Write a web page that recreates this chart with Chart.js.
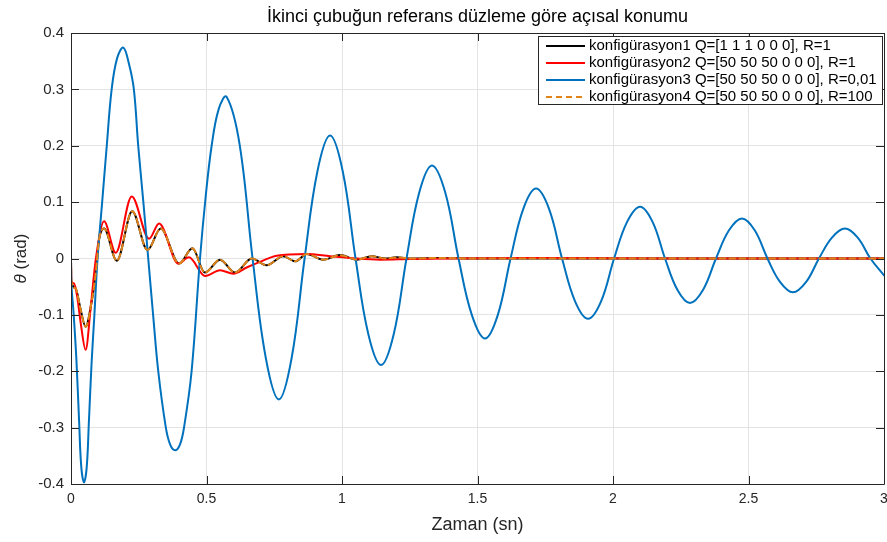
<!DOCTYPE html>
<html>
<head>
<meta charset="utf-8">
<script src="https://cdn.jsdelivr.net/npm/chart.js@4.4.0/dist/chart.umd.min.js"></script>
<style>
  html, body { margin: 0; padding: 0; background: #fff; }
  #c { display: block; }
</style>
</head>
<body>
<canvas id="c" width="887" height="542"></canvas>
<script>
/* Açısal konum grafiği — Chart.js ile yeniden çizim */

// ── Data ─────────────────────────────────────────────────────────────────────
const seriesLabels = [
  'konfigürasyon1 Q=[1 1 1 0 0 0], R=1',
  'konfigürasyon2 Q=[50 50 50 0 0 0], R=1',
  'konfigürasyon3 Q=[50 50 50 0 0 0], R=0,01',
  'konfigürasyon4 Q=[50 50 50 0 0 0], R=100'
];

const timeConf1  = [0, 0.001, 0.017, 0.033, 0.054, 0.075, 0.091, 0.103, 0.122, 0.169, 0.226, 0.282, 0.331, 0.399, 0.448, 0.494, 0.55, 0.605, 0.667, 0.722, 0.783, 0.827, 0.87, 0.931, 0.993, 1.054, 1.11, 1.16, 1.2, 1.26, 1.35, 1.5, 1.8, 2.2, 2.6, 3.0];
const thetaConf1 = [0, -0.04, -0.053, -0.085, -0.121, -0.08, -0.027, 0.032, 0.053, -0.004, 0.084, 0.015, 0.053, -0.009, 0.018, -0.025, -0.002, -0.025, 0, -0.012, 0.004, -0.005, 0.008, -0.002, 0.006, -0.002, 0.004, 0, 0.002, 0, 0.001, 0, 0, 0, 0, 0];

const timeConf2  = [0, 0.001, 0.011, 0.023, 0.036, 0.054, 0.073, 0.091, 0.122, 0.165, 0.224, 0.288, 0.325, 0.396, 0.435, 0.495, 0.55, 0.599, 0.648, 0.697, 0.759, 0.87, 0.956, 1.05, 1.14, 1.25, 1.4, 1.7, 2.2, 3.0];
const thetaConf2 = [0, -0.04, -0.044, -0.068, -0.115, -0.162, -0.085, -0.003, 0.066, 0.01, 0.11, 0.035, 0.062, -0.009, 0.002, -0.031, -0.021, -0.027, -0.016, -0.006, 0.005, 0.008, 0.004, 0, -0.002, -0.001, 0, 0.001, 0, 0];

const timeConf3  = [0, 0.001, 0.010, 0.020, 0.030, 0.038, 0.048, 0.058, 0.066, 0.076, 0.086, 0.098,
  0.115, 0.132, 0.150, 0.170, 0.193, 0.214, 0.232, 0.248, 0.267, 0.285, 0.303, 0.322, 0.350, 0.366, 0.384,
  0.402, 0.417, 0.445, 0.476, 0.497, 0.519, 0.545, 0.574,
  0.622, 0.670, 0.719, 0.767, 0.814, 0.862, 0.909, 0.956, 1.003, 1.050, 1.097, 1.144,
  1.191, 1.238, 1.285, 1.332, 1.381, 1.430, 1.479, 1.528, 1.575, 1.622, 1.669, 1.716,
  1.764, 1.812, 1.860, 1.908, 1.956, 2.004, 2.052, 2.100, 2.146, 2.192, 2.238, 2.284,
  2.332, 2.380, 2.428, 2.476, 2.523, 2.570, 2.617, 2.664, 2.712, 2.760, 2.808, 2.856,
  2.903, 2.950, 3.000];
const thetaConf3 = [0, -0.042, -0.10, -0.18, -0.29, -0.37, -0.397, -0.37, -0.29, -0.185, -0.103, 0,
  0.10, 0.20, 0.30, 0.355, 0.374, 0.345, 0.30, 0.20, 0.10, 0, -0.10, -0.20, -0.30, -0.33, -0.34,
  -0.33, -0.30, -0.20, 0, 0.11, 0.20, 0.265, 0.287,
  0.203, 0, -0.177, -0.25, -0.177, 0, 0.154, 0.218, 0.154, 0, -0.134, -0.189,
  -0.134, 0, 0.117, 0.165, 0.117, 0, -0.10, -0.142, -0.10, 0, 0.088, 0.124,
  0.088, 0, -0.076, -0.107, -0.076, 0, 0.065, 0.092, 0.065, 0, -0.056, -0.079,
  -0.056, 0, 0.05, 0.071, 0.05, 0, -0.042, -0.06, -0.042, 0, 0.037, 0.053,
  0.037, 0, -0.03];

const timeConf4  = [0, 0.001, 0.017, 0.033, 0.054, 0.075, 0.091, 0.103, 0.122, 0.169, 0.226, 0.282, 0.331, 0.399, 0.448, 0.494, 0.55, 0.605, 0.667, 0.722, 0.783, 0.827, 0.87, 0.931, 0.993, 1.054, 1.11, 1.16, 1.2, 1.26, 1.35, 1.5, 1.8, 2.2, 2.6, 3.0];
const thetaConf4 = [0, -0.04, -0.053, -0.085, -0.121, -0.08, -0.027, 0.032, 0.053, -0.004, 0.084, 0.015, 0.053, -0.009, 0.018, -0.025, -0.002, -0.025, 0, -0.012, 0.004, -0.005, 0.008, -0.002, 0.006, -0.002, 0.004, 0, 0.002, 0, 0.001, 0, 0, 0, 0, 0];

const xTicks      = [0, 0.5, 1, 1.5, 2, 2.5, 3];
const xTickLabels = ['0', '0.5', '1', '1.5', '2', '2.5', '3'];
const yTicks      = [-0.4, -0.3, -0.2, -0.1, 0, 0.1, 0.2, 0.3, 0.4];
const yTickLabels = ['-0.4', '-0.3', '-0.2', '-0.1', '0', '0.1', '0.2', '0.3', '0.4'];

const titleText = 'İkinci çubuğun referans düzleme göre açısal konumu';
const xTitle    = 'Zaman (sn)';

// ── Look ─────────────────────────────────────────────────────────────────────
const FONT     = '"Liberation Sans", Arial, sans-serif';
const AXIS_CLR = '#262626';
const GRID_CLR = '#e3e3e3';
const PLOT     = { left: 71, right: 884, top: 33, bottom: 484 };

function toPoints(ts, vs) {
  return ts.map((t, i) => ({ x: t, y: vs[i] }));
}

// ── Plugins ──────────────────────────────────────────────────────────────────
const whiteBg = {
  id: 'whiteBg',
  beforeDraw(chart) {
    const c = chart.ctx;
    c.save();
    c.fillStyle = '#fff';
    c.fillRect(0, 0, chart.width, chart.height);
    c.restore();
  }
};

const matlabFrame = {
  id: 'matlabFrame',
  afterDraw(chart) {
    const c = chart.ctx;
    const a = chart.chartArea;
    const xs = chart.scales.x, ys = chart.scales.y;
    const tl = 8;
    c.save();
    c.strokeStyle = AXIS_CLR;
    c.lineWidth = 1;
    c.beginPath();
    c.rect(Math.round(a.left) + 0.5, Math.round(a.top) + 0.5, Math.round(a.right - a.left), Math.round(a.bottom - a.top));
    xTicks.forEach(v => {
      const px = Math.round(xs.getPixelForValue(v)) + 0.5;
      c.moveTo(px, a.bottom); c.lineTo(px, a.bottom - tl);
      c.moveTo(px, a.top);    c.lineTo(px, a.top + tl);
    });
    yTicks.forEach(v => {
      const py = Math.round(ys.getPixelForValue(v)) + 0.5;
      c.moveTo(a.left, py);  c.lineTo(a.left + tl, py);
      c.moveTo(a.right, py); c.lineTo(a.right - tl, py);
    });
    c.stroke();

    // title + axis titles
    c.fillStyle = '#000';
    c.textAlign = 'center';
    c.textBaseline = 'middle';
    c.font = '18px ' + FONT;
    c.fillText(titleText, (a.left + a.right) / 2, 17);
    c.fillStyle = AXIS_CLR;
    c.font = '18px ' + FONT;
    c.fillText(xTitle, (a.left + a.right) / 2, 525);

    // y title: italic theta + " (rad)"
    c.translate(21, (a.top + a.bottom) / 2);
    c.rotate(-Math.PI / 2);
    const f1 = 'italic 17px ' + FONT, f2 = '17px ' + FONT;
    c.font = f1; const w1 = c.measureText('θ').width;
    c.font = f2; const w2 = c.measureText(' (rad)').width;
    c.textAlign = 'left';
    c.font = f1; c.fillText('θ', -(w1 + w2) / 2, 0);
    c.font = f2; c.fillText(' (rad)', -(w1 + w2) / 2 + w1, 0);
    c.restore();

    // legend box
    const box = { x: 538, y: 36, w: 344, h: 68 };
    c.save();
    c.fillStyle = '#fff';
    c.fillRect(box.x, box.y, box.w, box.h);
    c.strokeStyle = AXIS_CLR;
    c.lineWidth = 1;
    c.strokeRect(box.x + 0.5, box.y + 0.5, box.w, box.h);
    c.font = '15px ' + FONT;
    c.textBaseline = 'middle';
    c.textAlign = 'left';
    chart.data.datasets.forEach((ds, i) => {
      const yy = box.y + 10 + i * 17;
      c.strokeStyle = ds.borderColor;
      c.lineWidth = ds.borderWidth;
      c.setLineDash(ds.borderDash || []);
      c.beginPath();
      c.moveTo(box.x + 8, yy); c.lineTo(box.x + 47, yy);
      c.stroke();
      c.setLineDash([]);
      c.fillStyle = '#000';
      c.fillText(ds.label, box.x + 51, yy);
    });
    c.restore();
  }
};

// ── Chart ────────────────────────────────────────────────────────────────────
new Chart(document.getElementById('c'), {
  type: 'line',
  data: {
    datasets: [
      { label: seriesLabels[0], data: toPoints(timeConf1, thetaConf1), borderColor: '#000000', borderWidth: 2, order: 4 },
      { label: seriesLabels[1], data: toPoints(timeConf2, thetaConf2), borderColor: '#ff0000', borderWidth: 2, order: 3 },
      { label: seriesLabels[2], data: toPoints(timeConf3, thetaConf3), borderColor: '#0072bd', borderWidth: 2, order: 2,
        cubicInterpolationMode: 'default', tension: 0.38 },
      { label: seriesLabels[3], data: toPoints(timeConf4, thetaConf4), borderColor: '#e0841a', borderWidth: 2, borderDash: [6, 4], order: 1 }
    ]
  },
  options: {
    responsive: false,
    animation: false,
    devicePixelRatio: 1,
    layout: { padding: { top: PLOT.top, right: 887 - PLOT.right, left: 0, bottom: 0 } },
    elements: {
      point: { radius: 0 },
      line: { cubicInterpolationMode: 'monotone', fill: false, borderCapStyle: 'round', borderJoinStyle: 'round' }
    },
    plugins: { legend: { display: false }, title: { display: false }, tooltip: { enabled: false } },
    scales: {
      x: {
        type: 'linear', min: 0, max: 3,
        afterBuildTicks: s => { s.ticks = xTicks.map(v => ({ value: v })); },
        afterFit: s => { s.height = 542 - PLOT.bottom; s.paddingLeft = 0; s.paddingRight = 0; },
        ticks: { callback: (v, i) => xTickLabels[i], color: AXIS_CLR, font: { family: FONT, size: 14 }, padding: 7, maxRotation: 0, autoSkip: false },
        grid: { color: GRID_CLR, drawTicks: false },
        border: { display: false }
      },
      y: {
        type: 'linear', min: -0.4, max: 0.4,
        afterBuildTicks: s => { s.ticks = yTicks.map(v => ({ value: v })); },
        afterFit: s => { s.width = PLOT.left; s.paddingTop = 0; s.paddingBottom = 0; },
        ticks: { callback: (v, i) => yTickLabels[i], color: AXIS_CLR, font: { family: FONT, size: 15 }, padding: 7, autoSkip: false },
        grid: { color: GRID_CLR, drawTicks: false },
        border: { display: false }
      }
    }
  },
  plugins: [whiteBg, matlabFrame]
});
</script>
</body>
</html>
